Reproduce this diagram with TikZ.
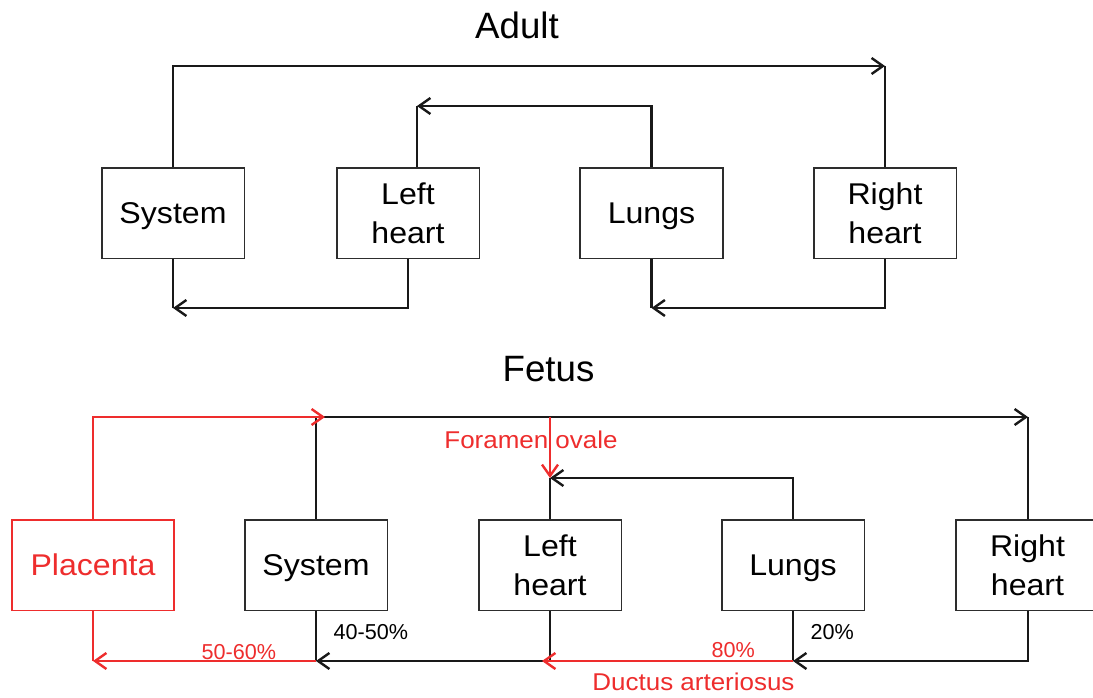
\documentclass[tikz,border=0pt]{standalone}
\usepackage{fontspec}
\setmainfont{Liberation Sans}
\newfontfamily\widefont{Liberation Sans}[FakeStretch=1.07]
\usetikzlibrary{arrows.meta}
\definecolor{myred}{RGB}{238,45,45}
\definecolor{lineblack}{RGB}{25,25,25}
\definecolor{boxgray}{RGB}{45,45,45}
\begin{document}
\begin{tikzpicture}[x=0.75pt,y=-0.75pt,
  box/.style={draw=boxgray, line width=1.25pt, fill=white, minimum width=107pt, minimum height=68pt,
    inner sep=0pt, align=center, font=\widefont\fontsize{22.5}{29}\selectfont},
  oneline/.style={text height=16pt, text depth=0pt},
  redbox/.style={box, draw=myred, text=myred},
  conn/.style={draw=lineblack, line width=1.8pt},
  flow/.style={conn, -{Straight Barb[length=8.5pt,width=12pt,line width=1.8pt]}},
  redconn/.style={draw=myred, line width=1.8pt},
  redflow/.style={redconn, -{Straight Barb[length=8.5pt,width=12pt,line width=1.8pt]}},
  title/.style={anchor=base, font=\fontsize{27.5}{30}\selectfont},
  pct/.style={anchor=base west, font=\fontsize{16.2}{18}\selectfont},
  redlabel/.style={anchor=base, text=myred, font=\widefont\fontsize{18.2}{20}\selectfont}
]
\useasboundingbox[fill=white] (0,0) rectangle (1093,697);

% ---------------- Adult ----------------
\node[title] (tadult) at (517,38.3) {Adult};
\node[box, oneline] (asys) at (173,213) {System};
\node[box] (alh) at (408,213) {Left\\heart};
\node[box, oneline] (alu) at (651.5,213) {Lungs};
\node[box] (arh) at (885,213) {Right\\heart};

\coordinate (a1) at (885,66);
\coordinate (a2) at (417,106);
\coordinate (a3) at (173,308);
\coordinate (a4) at (651.5,308);

\draw[flow] (asys.north) |- (a1);
\draw[conn] (a1) -- (arh.north);
\draw[flow] (alu.north) |- (a2);
\draw[conn] (a2) -- (a2 |- alh.north);
\draw[flow] (alh.south) |- (a3);
\draw[conn] (a3) -- (asys.south);
\draw[flow] (arh.south) |- (a4);
\draw[conn] (a4) -- (alu.south);

% ---------------- Fetus ----------------
\node[title] (tfetus) at (548.5,381) {Fetus};
\node[redbox, oneline, minimum width=121.5pt] (plac) at (93,565) {Placenta};
\node[box, oneline] (fsys) at (316,565) {System};
\node[box] (flh) at (550,565) {Left\\heart};
\node[box, oneline] (flu) at (793,565) {Lungs};
\node[box] (frh) at (1027.5,565) {Right\\heart};

\coordinate (f0) at (325,417);
\coordinate (f1) at (1028,417);
\coordinate (fo1) at (550,417);
\coordinate (f2) at (550,478);
\coordinate (f3) at (316,661);
\coordinate (f4) at (793,661);
\coordinate (f5) at (93,661);
\coordinate (f6) at (542,661);

\node[redlabel] (lfo) at (531,448) {Foramen ovale};

\draw[flow] (fsys.north) |- (f1);
\draw[conn] (f1) -- (f1 |- frh.north);
\draw[flow] (flu.north) |- (f2);
\draw[conn] (f2) -- (flh.north);
\draw[flow] (flh.south) |- (f3);
\draw[conn] (f3) -- (fsys.south);
\draw[flow] (frh.south -| f1) |- (f4);
\draw[conn] (f4) -- (flu.south);

\draw[redflow] (plac.north) |- (f0);
\draw[redflow] (fo1) -- (f2);
\draw[redflow] (f3) -- (f5);
\draw[redconn] (f5) -- (plac.south);
\draw[redflow] (f4) -- (f6);

\node[pct] (l4050) at (329,639) {40-50\%};
\node[pct] (l20) at (806,639) {20\%};
\node[pct, text=myred] (l5060) at (197,659) {50-60\%};
\node[pct, text=myred] (l80) at (707,657) {80\%};
\node[redlabel] (lda) at (693.5,690.5) {Ductus arteriosus};
\end{tikzpicture}
\end{document}
